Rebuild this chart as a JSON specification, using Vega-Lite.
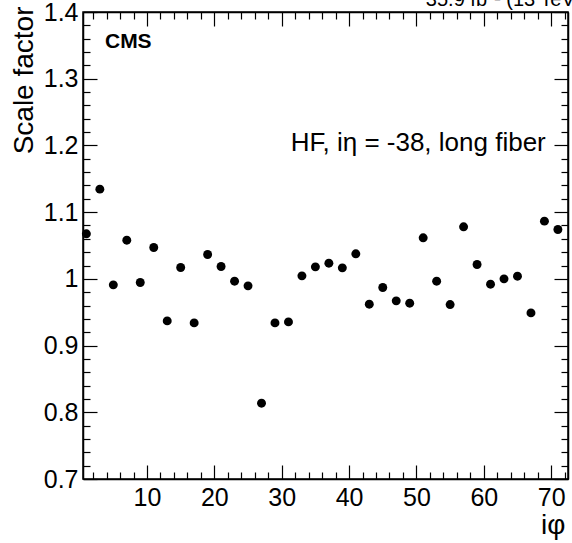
{
  "$schema": "https://vega.github.io/schema/vega-lite/v6.json",
  "width": 485,
  "height": 467,
  "autosize": {"type": "none"},
  "padding": {"left": 83, "top": 12, "right": 4, "bottom": 64},
  "background": "white",
  "config": {
    "font": "Liberation Sans",
    "view": {"stroke": "black", "strokeWidth": 1.5},
    "axis": {
      "domainColor": "black",
      "domainWidth": 1.5,
      "tickColor": "black",
      "tickWidth": 1.2,
      "labelColor": "black",
      "labelFont": "Liberation Sans",
      "labelFontSize": 25,
      "titleFont": "Liberation Sans",
      "titleFontWeight": "normal",
      "titleColor": "black",
      "grid": false,
      "labelOverlap": false,
      "labelFlush": false
    }
  },
  "data": {
    "values": [
      {"iphi": 1, "sf": 1.0675},
      {"iphi": 3, "sf": 1.1345},
      {"iphi": 5, "sf": 0.991},
      {"iphi": 7, "sf": 1.058},
      {"iphi": 9, "sf": 0.9945},
      {"iphi": 11, "sf": 1.047},
      {"iphi": 13, "sf": 0.937},
      {"iphi": 15, "sf": 1.017},
      {"iphi": 17, "sf": 0.934},
      {"iphi": 19, "sf": 1.0365},
      {"iphi": 21, "sf": 1.0185},
      {"iphi": 23, "sf": 0.9965},
      {"iphi": 25, "sf": 0.9895},
      {"iphi": 27, "sf": 0.8136},
      {"iphi": 29, "sf": 0.934},
      {"iphi": 31, "sf": 0.9355},
      {"iphi": 33, "sf": 1.0045},
      {"iphi": 35, "sf": 1.018},
      {"iphi": 37, "sf": 1.0235},
      {"iphi": 39, "sf": 1.0165},
      {"iphi": 41, "sf": 1.0375},
      {"iphi": 43, "sf": 0.962},
      {"iphi": 45, "sf": 0.987},
      {"iphi": 47, "sf": 0.967},
      {"iphi": 49, "sf": 0.9635},
      {"iphi": 51, "sf": 1.0615},
      {"iphi": 53, "sf": 0.9965},
      {"iphi": 55, "sf": 0.9615},
      {"iphi": 57, "sf": 1.078},
      {"iphi": 59, "sf": 1.0215},
      {"iphi": 61, "sf": 0.992},
      {"iphi": 63, "sf": 1.0},
      {"iphi": 65, "sf": 1.004},
      {"iphi": 67, "sf": 0.949},
      {"iphi": 69, "sf": 1.0865},
      {"iphi": 71, "sf": 1.074}
    ]
  },
  "layer": [
    {
      "mark": {"type": "point", "filled": true, "color": "black", "size": 80, "opacity": 1},
      "encoding": {
        "x": {
          "field": "iphi",
          "type": "quantitative",
          "scale": {"domain": [0.5, 72.5], "nice": false, "zero": false},
          "axis": {
            "orient": "bottom",
            "title": "iφ",
            "titleFontSize": 28,
            "titleAnchor": "end",
            "titleAlign": "right",
            "titleBaseline": "alphabetic",
            "titleX": 482,
            "titleY": 54,
            "values": [2,4,6,8,10,12,14,16,18,20,22,24,26,28,30,32,34,36,38,40,42,44,46,48,50,52,54,56,58,60,62,64,66,68,70,72],
            "tickSize": {"condition": {"test": "datum.value % 10 === 0", "value": -14}, "value": -7},
            "labelPadding": 20,
            "labelExpr": "datum.value % 10 === 0 ? datum.label : ''"
          }
        },
        "y": {
          "field": "sf",
          "type": "quantitative",
          "scale": {"domain": [0.7, 1.4], "nice": false, "zero": false},
          "axis": {
            "orient": "left",
            "title": "Scale factor",
            "titleFontSize": 28,
            "titleAnchor": "end",
            "titleAngle": 270,
            "titleAlign": "right",
            "titleBaseline": "alphabetic",
            "titleX": -51,
            "titleY": -6,
            "values": [0.7,0.72,0.74,0.76,0.78,0.8,0.82,0.84,0.86,0.88,0.9,0.92,0.94,0.96,0.98,1,1.02,1.04,1.06,1.08,1.1,1.12,1.14,1.16,1.18,1.2,1.22,1.24,1.26,1.28,1.3,1.32,1.34,1.36,1.38,1.4],
            "tickSize": {"condition": {"test": "abs(datum.value*10 - round(datum.value*10)) < 0.000001", "value": -14}, "value": -7},
            "labelPadding": 19,
            "labelExpr": "abs(datum.value*10 - round(datum.value*10)) < 0.000001 ? format(datum.value, '~g') : ''"
          }
        }
      }
    },
    {
      "mark": {"type": "point", "opacity": 0},
      "encoding": {
        "x": {
          "field": "iphi",
          "type": "quantitative",
          "axis": {
            "orient": "top",
            "title": null,
            "labels": false,
            "values": [2,4,6,8,10,12,14,16,18,20,22,24,26,28,30,32,34,36,38,40,42,44,46,48,50,52,54,56,58,60,62,64,66,68,70,72],
            "tickSize": {"condition": {"test": "datum.value % 10 === 0", "value": -14}, "value": -7}
          }
        },
        "y": {
          "field": "sf",
          "type": "quantitative",
          "axis": {
            "orient": "right",
            "title": null,
            "labels": false,
            "values": [0.7,0.72,0.74,0.76,0.78,0.8,0.82,0.84,0.86,0.88,0.9,0.92,0.94,0.96,0.98,1,1.02,1.04,1.06,1.08,1.1,1.12,1.14,1.16,1.18,1.2,1.22,1.24,1.26,1.28,1.3,1.32,1.34,1.36,1.38,1.4],
            "tickSize": {"condition": {"test": "abs(datum.value*10 - round(datum.value*10)) < 0.000001", "value": -14}, "value": -7}
          }
        }
      }
    },
    {
      "data": {"values": [{"label": "CMS"}]},
      "mark": {"type": "text", "align": "left", "baseline": "alphabetic", "fontSize": 21, "fontWeight": "bold", "font": "Liberation Sans", "color": "black"},
      "encoding": {
        "x": {"datum": 3.76, "type": "quantitative", "axis": null},
        "y": {"datum": 1.346, "type": "quantitative", "axis": null},
        "text": {"field": "label"}
      }
    },
    {
      "data": {"values": [{"label": "HF, iη = -38, long fiber"}]},
      "mark": {"type": "text", "align": "right", "baseline": "alphabetic", "fontSize": 26, "font": "Liberation Sans", "color": "black"},
      "encoding": {
        "x": {"datum": 69.2, "type": "quantitative", "axis": null},
        "y": {"datum": 1.192, "type": "quantitative", "axis": null},
        "text": {"field": "label"}
      }
    },
    {
      "data": {"values": [{"label": "35.9 fb⁻¹ (13 TeV)"}]},
      "mark": {"type": "text", "align": "left", "baseline": "alphabetic", "fontSize": 20, "font": "Liberation Sans", "color": "black", "dy": -6},
      "encoding": {
        "x": {"datum": 51.4, "type": "quantitative", "axis": null},
        "y": {"datum": 1.4, "type": "quantitative", "axis": null},
        "text": {"field": "label"}
      }
    }
  ],
  "resolve": {"axis": {"x": "independent", "y": "independent"}}
}
